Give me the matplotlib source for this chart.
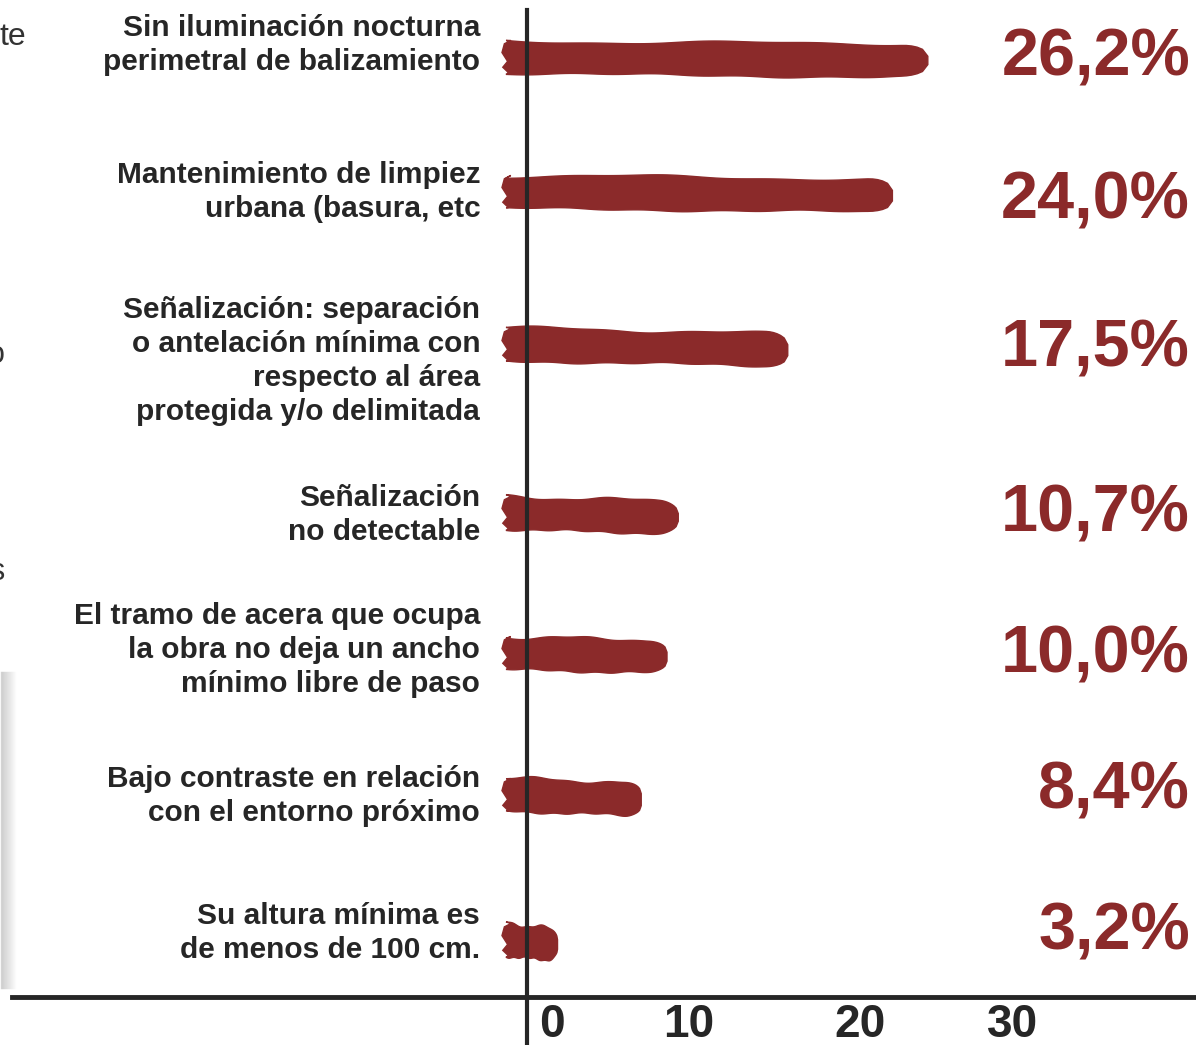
import numpy as np
import matplotlib
matplotlib.use("Agg")
import matplotlib.pyplot as plt
from matplotlib.patches import Polygon
from matplotlib.transforms import ScaledTranslation

# Datos: motivos de incumplimiento (%)
labels = [
    "Sin iluminación nocturna\nperimetral de balizamiento",
    "Mantenimiento de limpiez\nurbana (basura, etc",
    "Señalización: separación\no antelación mínima con\nrespecto al área\nprotegida y/o delimitada",
    "Señalización\nno detectable",
    "El tramo de acera que ocupa\nla obra no deja un ancho\nmínimo libre de paso",
    "Bajo contraste en relación\ncon el entorno próximo",
    "Su altura mínima es\nde menos de 100 cm.",
]
values = [26.2, 24.0, 17.5, 10.7, 10.0, 8.4, 3.2]
value_labels = ["26,2%", "24,0%", "17,5%", "10,7%", "10,0%", "8,4%", "3,2%"]
ticks = [0, 10, 20, 30]

# posición vertical de cada fila (en unidades de fila) y desplazamientos de texto (px)
rows = [0.0, 0.917, 1.957, 3.098, 4.05, 5.015, 6.0]
label_dy = [-12, 0, 16, 2, -3, 1, -7]
value_dy = [2, 10, 5, 2, 2, -4, -8]

RED = "#8b2a2a"
INK = "#262626"

plt.rcParams["font.family"] = ["Liberation Sans", "DejaVu Sans"]

W, H = 1196, 1045
fig = plt.figure(figsize=(W / 100, H / 100), dpi=100)
fig.patch.set_facecolor("white")
ax = fig.add_axes([12 / W, 48 / H, 1 - 12 / W, (997 - 10) / H])

# escala horizontal: ~16.1 px por punto porcentual, cero en x=506 px
px_per_unit = 16.1
x_zero = 506 - 12
ax.set_xlim(-x_zero / px_per_unit, (W - 12 - x_zero) / px_per_unit)
ax.set_ylim(6.387, -0.319)
px_row = 987 / (6.387 + 0.319)


def brush(ax, v, y, k):
    """Trazo tipo pincel de 0 a v centrado en y."""
    h = 0.112
    n = 80
    rx = 0.8 + 0.03 * v
    x = np.linspace(0, v, n)
    t = x / v
    ph = 1.3 * k
    # grosor que se estrecha en el extremo derecho
    u = np.clip((x - (v - rx)) / rx, 0, 1)
    f = 0.3 + 0.7 * np.sqrt(1 - u ** 2)
    mid = y + 0.03 * t + 0.006 * np.sin(2 * np.pi * (0.9 * t + ph))
    top = mid - h * f + 0.010 * np.sin(2 * np.pi * (1.4 * t + ph)) + 0.004 * np.sin(23 * t + ph)
    bot = mid + h * f + 0.011 * np.sin(2 * np.pi * (1.2 * t + ph + 0.4)) + 0.004 * np.sin(31 * t)
    # extremo izquierdo irregular
    lx = np.array([0.15, -0.2, 0.1, -0.25, -0.1, 0.3])
    ly = y + np.array([h * 0.95, 0.07, 0.03, -0.03, -h * 0.8, -h])
    xs = np.concatenate([x, x[::-1], lx])
    ys = np.concatenate([top, bot[::-1], ly])
    ax.add_patch(Polygon(np.column_stack([xs, ys]), closed=True,
                         facecolor=RED, edgecolor=RED, lw=1.0, zorder=2))


for k, (v, y) in enumerate(zip(values, rows)):
    brush(ax, v, y, k)

# etiquetas de categoría a la izquierda
for lab, y, dy in zip(labels, rows, label_dy):
    ax.text(-1.6, y + dy / px_row, lab, ha="right", va="center", fontsize=21.5,
            fontweight="bold", color=INK, linespacing=1.28)

# porcentajes a la derecha
for vl, y, dy in zip(value_labels, rows, value_dy):
    ax.text((1190 - 12) / (W - 12), y + dy / px_row, vl, transform=ax.get_yaxis_transform(),
            ha="right", va="center", fontsize=48, fontweight="bold",
            color=RED, clip_on=False)

# ejes
for s in ["top", "right", "left"]:
    ax.spines[s].set_visible(False)
ax.spines["bottom"].set_linewidth(3.5)
ax.spines["bottom"].set_color(INK)
ax.axvline((527 - 506) / px_per_unit, ymin=-48 / 987, ymax=1, clip_on=False,
           color=INK, lw=3, zorder=3)

ax.set_yticks([])
ax.set_xticks(ticks)
ax.set_xticklabels([str(t) for t in ticks], fontsize=33, fontweight="bold", color=INK)
ax.tick_params(axis="x", length=0, pad=4)
for tl, dx in zip(ax.get_xticklabels(), [46, 22, 32, 24]):
    tl.set_transform(tl.get_transform() + ScaledTranslation(dx / 100, 0, fig.dpi_scale_trans))

# restos de otra figura recortada en el margen izquierdo
fig.text(0, 1 - 37 / H, "te", ha="left", va="center", fontsize=23, color="#333333")
fig.text(5 / W, 1 - 355 / H, "o", ha="right", va="center", fontsize=22, color="#333333")
fig.text(4 / W, 1 - 572 / H, "s", ha="right", va="center", fontsize=22, color="#333333")
for i, a in enumerate(np.linspace(0.3, 0.0, 16)):
    fig.add_artist(plt.Line2D([(1 + i) / W] * 2, [1 - 988 / H, 1 - 672 / H],
                              color="gray", alpha=a, lw=1.0))

fig.savefig("out.png", dpi=100, facecolor="white")
